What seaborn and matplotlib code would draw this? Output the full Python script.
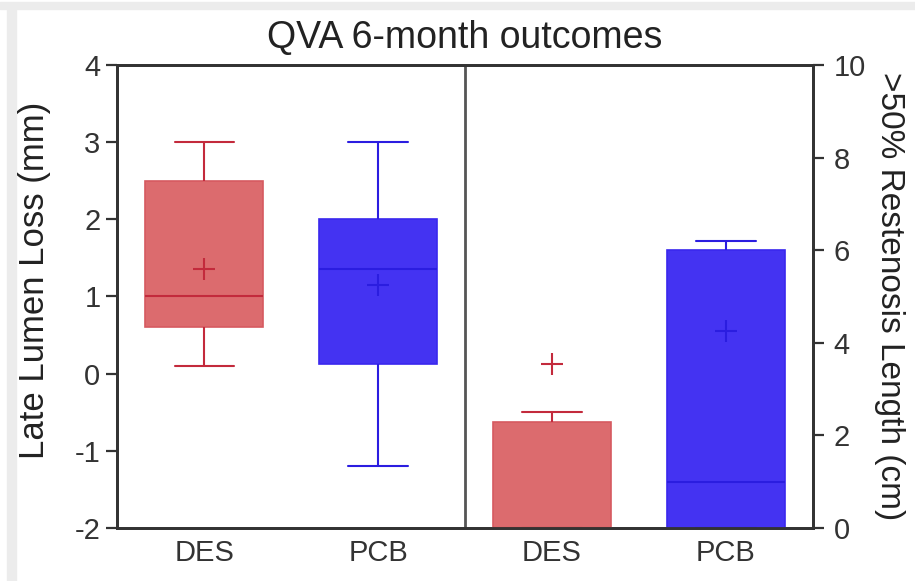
import matplotlib
matplotlib.use("Agg")
import matplotlib.pyplot as plt
from matplotlib.patches import Rectangle
import pandas as pd
import seaborn as sns

# Treatment arms
groups = ["DES", "PCB"]

# Late lumen loss (mm): whisker ends, quartiles, median and mean per arm
lll_min = [0.1, -1.2]
lll_q1 = [0.6, 0.12]
lll_median = [1.0, 1.35]
lll_q3 = [2.5, 2.0]
lll_max = [3.0, 3.0]
lll_mean = [1.35, 1.15]

# >50% restenosis length (cm)
rl_min = [0.0, 0.0]
rl_q1 = [0.0, 0.0]
rl_median = [0.0, 1.0]
rl_q3 = [2.3, 6.0]
rl_max = [2.5, 6.2]
rl_mean = [3.55, 4.25]

lll_ticks = [-2, -1, 0, 1, 2, 3, 4]
rl_ticks = [0, 2, 4, 6, 8, 10]

title = "QVA 6-month outcomes"
lll_label = "Late Lumen Loss (mm)"
rl_label = ">50% Restenosis Length (cm)"

fill = {"DES": "#dc6b6e", "PCB": "#4433f2"}
edge = {"DES": "#d65a60", "PCB": "#3a28ee"}
line = {"DES": "#c32a3c", "PCB": "#2b1de0"}

sns.set_style("ticks")
plt.rcParams["font.family"] = ["Liberation Sans", "DejaVu Sans"]
plt.rcParams["axes.unicode_minus"] = False
plt.rcParams["axes.edgecolor"] = "#333333"
plt.rcParams["xtick.color"] = "#333333"
plt.rcParams["ytick.color"] = "#333333"
plt.rcParams["text.color"] = "#222222"
plt.rcParams["axes.labelcolor"] = "#222222"

order = [f"lll {g}" for g in groups] + [f"rl {g}" for g in groups]

fig = plt.figure(figsize=(9.15, 5.81), dpi=100)
ax = fig.add_axes([0.128, 0.0912, 0.7605, 0.797])
ax2 = ax.twinx()


def draw_boxes(target, key, mins, q1s, meds, q3s, maxs, means):
    for g, lo, a, m, b, hi, mu in zip(groups, mins, q1s, meds, q3s, maxs, means):
        cat = f"{key} {g}"
        # five-number summary of the arm; whiskers span the full range
        df = pd.DataFrame({"group": [cat] * 5, "value": [lo, a, m, b, hi]})
        sns.boxplot(
            data=df, x="group", y="value", order=order, ax=target,
            whis=(0, 100), width=0.68, color=fill[g], saturation=1,
            linecolor=line[g], linewidth=1.5, showfliers=False,
            boxprops=dict(edgecolor=edge[g], linewidth=1.2),
        )
        sns.scatterplot(
            x=[cat], y=[mu], ax=target, marker="+", s=260,
            color=line[g], linewidth=1.5, legend=False, zorder=5,
        )


draw_boxes(ax, "lll", lll_min, lll_q1, lll_median, lll_q3, lll_max, lll_mean)
draw_boxes(ax2, "rl", rl_min, rl_q1, rl_median, rl_q3, rl_max, rl_mean)

# panel divider between the two outcomes
ax.axvline(1.5, color="#555555", linewidth=2, zorder=0)

ax.set_xlim(-0.5, 3.5)
ax.set_ylim(-2, 4)
ax2.set_ylim(0, 10)
ax.set_yticks(lll_ticks)
ax2.set_yticks(rl_ticks)
ax.set_xticks(range(len(order)))
ax.set_xticklabels(groups * 2)

ax.set_xlabel("")
ax.set_ylabel(lll_label, fontsize=25)
ax.yaxis.set_label_coords(-0.095, 0.535)
ax2.set_xlabel("")
ax2.set_ylabel(rl_label, fontsize=24, rotation=270, labelpad=28)

ax.tick_params(axis="y", length=8, width=1.6, labelsize=21, pad=4)
ax2.tick_params(axis="y", length=8, width=1.6, labelsize=21, pad=7)
ax.tick_params(axis="x", length=0, labelsize=21, pad=8)

for a in (ax, ax2):
    for s in a.spines.values():
        s.set_linewidth(2)
        s.set_color("#333333")
        s.set_visible(True)

ax.set_title(title, fontsize=27, pad=12)

# light frame bands along the top and left edges
fig.patches.append(Rectangle((0, 1 - 9 / 581), 1, 7 / 581, transform=fig.transFigure,
                             color="#ececec", zorder=-1))
fig.patches.append(Rectangle((7 / 915, 0), 9 / 915, 1 - 9 / 581, transform=fig.transFigure,
                             color="#ececec", zorder=-1))

fig.savefig("out.png", dpi=100)
